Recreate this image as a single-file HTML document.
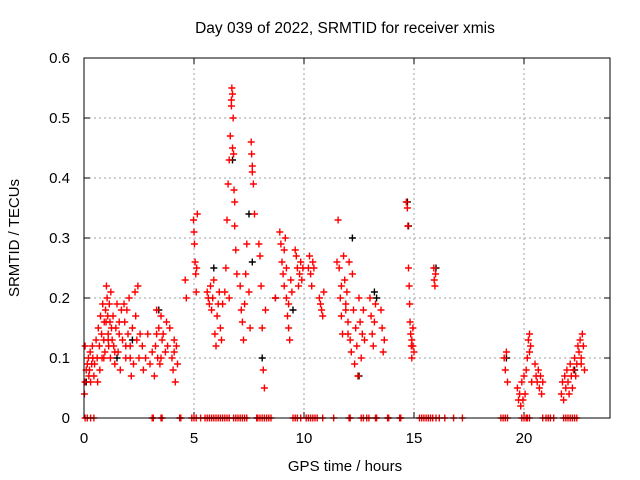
<!DOCTYPE html>
<html><head><meta charset="utf-8"><style>
body{margin:0;background:#fff;}
svg{display:block;font-family:"Liberation Sans",sans-serif;}
</style></head><body>
<svg id="chart" width="640" height="480" viewBox="0 0 640 480">
<rect width="640" height="480" fill="#fff"/>
<text x="345" y="33" font-size="15.5" text-anchor="middle">Day 039 of 2022, SRMTID for receiver xmis</text>
<text x="345" y="471" font-size="15" text-anchor="middle">GPS time / hours</text>
<text x="0" y="0" font-size="15" text-anchor="middle" transform="translate(19,238) rotate(-90)">SRMTID / TECUs</text>
<g id="grid"></g><g id="ticks"></g><g id="marks"></g>
<rect x="84" y="58" width="526" height="360" fill="none" stroke="#000" stroke-width="1"/>
</svg>
<script>
const xTicks=[0,5,10,15,20];
const yTicks=[0,0.1,0.2,0.3,0.4,0.5,0.6];
const yTickLabels=["0","0.1","0.2","0.3","0.4","0.5","0.6"];
const redT=[0.02,0.05,0.05,0.1,0.15,0.2,0.22,0.25,0.28,0.3,0.35,0.38,0.4,0.45,0.48,
0.55,0.6,0.62,0.65,0.7,0.72,0.75,0.8,0.82,0.85,0.9,0.92,0.95,0.98,
1.02,1.05,1.08,1.1,1.12,1.15,1.18,1.2,1.22,1.25,1.28,
1.32,1.35,1.4,1.45,1.5,1.55,1.6,1.65,1.7,1.75,
1.82,1.85,1.9,1.95,2.0,2.05,2.1,2.15,2.2,2.25,
2.32,2.35,2.4,2.45,2.5,2.55,2.65,2.7,2.8,2.9,3.0,3.1,
3.2,3.25,3.3,3.35,3.4,3.45,3.5,3.55,
3.6,3.7,3.75,3.8,3.9,4.0,4.05,4.1,4.15,4.2,4.25,4.6,4.65,
4.98,5.0,5.02,5.05,5.08,5.1,5.12,5.15,
5.6,5.65,5.7,5.75,5.8,5.85,5.9,5.95,6.0,6.05,6.1,6.15,6.2,6.25,
6.4,6.45,6.5,6.55,6.6,6.65,6.7,6.72,6.75,6.78,6.8,6.82,6.85,6.9,6.95,
7.1,7.15,7.2,7.25,7.3,7.35,7.4,7.5,7.55,7.6,7.62,7.65,7.7,7.75,
7.95,8.0,8.05,8.1,8.15,8.2,8.25,
8.7,8.9,8.95,9.0,9.05,9.1,9.15,9.2,9.25,9.3,9.35,9.4,9.45,
9.6,9.65,9.7,9.75,9.8,9.85,9.9,9.95,
10.2,10.25,10.3,10.35,10.4,10.45,10.7,10.75,10.8,10.85,10.9,
11.5,11.55,11.6,11.65,11.7,11.75,11.8,11.85,11.9,11.95,12.0,12.05,12.1,12.15,12.2,12.25,12.3,12.35,
12.4,12.45,12.5,12.55,12.6,12.65,12.7,12.75,
13.0,13.05,13.1,13.15,13.2,13.25,13.5,13.55,13.6,13.65,
14.65,14.7,14.72,14.75,14.78,14.8,14.82,14.85,14.88,14.9,14.95,15.0,
15.9,15.92,15.95,15.98,
19.1,19.15,19.2,19.25,19.7,19.75,19.8,19.85,19.9,19.95,20.0,20.05,
20.1,20.15,20.2,20.25,20.3,20.35,20.5,20.55,20.6,20.65,20.7,20.75,20.8,20.85,
21.7,21.75,21.8,21.85,21.9,21.95,22.0,22.05,22.1,22.15,22.2,22.25,22.3,22.35,22.4,22.45,
22.5,22.55,22.6,22.65,22.7,22.75,
0.9,1.0,1.1,1.4,1.6,1.9,2.1,3.3,3.5,4.1,6.3,6.6,6.7,6.75,6.85,7.65,9.1,9.2,9.3,11.7,11.9,12.0,14.9,14.95,20.25,22.6];
const redV=[0.04,0.06,0.12,0.08,0.09,0.1,0.07,0.08,0.11,0.06,0.09,0.12,0.1,0.07,0.09,
0.13,0.1,0.06,0.15,0.12,0.08,0.17,0.14,0.1,0.19,0.13,0.16,0.11,0.18,
0.22,0.2,0.17,0.14,0.12,0.19,0.16,0.1,0.21,0.15,0.13,
0.17,0.12,0.09,0.15,0.19,0.11,0.14,0.08,0.18,0.13,
0.19,0.16,0.12,0.18,0.14,0.2,0.1,0.07,0.15,0.09,
0.21,0.17,0.13,0.22,0.1,0.14,0.12,0.08,0.1,0.14,0.09,0.11,
0.07,0.12,0.18,0.1,0.15,0.09,0.17,0.13,
0.14,0.11,0.16,0.12,0.15,0.1,0.08,0.13,0.06,0.12,0.09,0.23,0.2,
0.33,0.31,0.29,0.26,0.24,0.21,0.25,0.34,
0.21,0.2,0.19,0.22,0.18,0.2,0.23,0.14,0.12,0.17,0.19,0.21,0.15,0.13,
0.21,0.25,0.33,0.39,0.43,0.47,0.52,0.55,0.54,0.5,0.44,0.38,0.32,0.28,0.24,
0.22,0.18,0.16,0.13,0.19,0.24,0.29,0.21,0.15,0.46,0.44,0.41,0.39,0.34,
0.29,0.27,0.22,0.15,0.08,0.05,0.18,
0.2,0.31,0.29,0.26,0.24,0.22,0.3,0.2,0.17,0.15,0.13,0.23,0.21,
0.28,0.27,0.25,0.22,0.24,0.26,0.23,0.25,
0.25,0.27,0.24,0.22,0.26,0.25,0.2,0.19,0.18,0.17,0.21,
0.26,0.33,0.25,0.2,0.17,0.14,0.27,0.23,0.19,0.21,0.16,0.26,0.13,0.11,0.24,0.18,0.09,0.15,
0.12,0.07,0.2,0.16,0.1,0.14,0.18,0.13,
0.2,0.17,0.14,0.12,0.16,0.19,0.18,0.15,0.11,0.13,
0.36,0.35,0.32,0.25,0.22,0.19,0.16,0.14,0.12,0.1,0.15,0.11,
0.25,0.23,0.22,0.24,
0.1,0.08,0.11,0.06,0.05,0.03,0.04,0.02,0.06,0.03,0.07,0.04,
0.08,0.1,0.13,0.14,0.12,0.06,0.09,0.07,0.06,0.08,0.05,0.07,0.04,0.06,
0.04,0.06,0.03,0.07,0.05,0.08,0.06,0.04,0.09,0.07,0.05,0.08,0.1,0.07,0.09,0.12,
0.11,0.13,0.09,0.14,0.12,0.08,
0.1,0.16,0.13,0.11,0.16,0.1,0.12,0.14,0.1,0.11,0.19,0.2,0.53,0.45,0.36,0.42,0.28,0.25,0.19,0.22,0.18,0.14,0.13,0.12,0.11,0.1];
const blackT=[0.1,1.5,2.2,3.4,5.9,6.75,7.5,7.65,8.1,8.7,9.5,12.2,12.5,13.2,13.3,14.7,14.75,16.0,19.2,22.3];
const blackV=[0.06,0.1,0.13,0.18,0.25,0.43,0.34,0.26,0.1,0.2,0.18,0.3,0.07,0.21,0.2,0.36,0.32,0.25,0.1,0.08];
const zeroT=[0.05,0.15,0.3,0.45,3.1,3.15,3.5,3.55,4.35,4.4,4.9,5.0,5.1,5.3,5.5,5.6,5.7,5.8,5.9,6.0,6.1,6.2,6.3,6.4,6.5,6.6,6.8,6.9,7.0,7.1,7.2,7.3,7.4,7.85,7.9,8.0,8.1,8.2,8.3,8.4,8.5,9.5,9.6,9.7,9.85,10.1,10.2,10.3,10.4,10.5,10.6,10.85,11.35,12.05,12.1,12.6,12.7,12.85,12.95,13.25,13.3,13.8,13.85,14.35,14.4,15.25,15.35,15.45,15.55,15.65,15.75,15.85,16.0,16.15,16.4,16.8,17.2,18.95,19.05,19.15,19.25,19.9,20.0,20.1,20.15,20.25,20.85,21.0,21.1,21.2,21.35,21.8,21.9,22.0,22.1,22.2,22.3,22.4];

const NS="http://www.w3.org/2000/svg";
function xs(t){return 84+t*22;}
function ys(v){return 418-v*600;}
const grid=document.getElementById('grid'),ticks=document.getElementById('ticks'),marks=document.getElementById('marks');
function mk(tag,attrs,parent){const e=document.createElementNS(NS,tag);for(const k in attrs)e.setAttribute(k,attrs[k]);parent.appendChild(e);return e;}
yTicks.forEach((v,i)=>{
  const y=ys(v);
  if(i>0&&i<yTicks.length-1){const g=mk('line',{x1:84,x2:610,y1:y,y2:y,stroke:'#a0a0a0','stroke-dasharray':'2,3'},grid);
  
  }
  const tk=mk('path',{d:`M84 ${y}h6M610 ${y}h-6`,stroke:'#000'},ticks);
  
  
  const t=mk('text',{x:70,y:y+5,'font-size':15,'text-anchor':'end'},ticks);t.textContent=yTickLabels[i];
  
  
});
xTicks.forEach(v=>{
  const x=xs(v);
  if(v>0){const g=mk('line',{x1:x,x2:x,y1:58,y2:418,stroke:'#a0a0a0','stroke-dasharray':'2,3'},grid);
  
  }
  const tk=mk('path',{d:`M${x} 418v-6M${x} 58v6`,stroke:'#000'},ticks);
  
  
  const t=mk('text',{x:x,y:443,'font-size':15,'text-anchor':'middle'},ticks);t.textContent=String(v);
  
  
});
function plus(x,y,c,name){
  const p=mk('path',{d:`M${x-3.5} ${y}h7M${x} ${y-3.5}v7`,stroke:c,'stroke-width':1.4},marks);
  
  
}
blackT.forEach((t,i)=>plus(xs(t),ys(blackV[i]),'#000','black-point'));
redT.forEach((t,i)=>plus(xs(t),ys(redV[i]),'#f00','red-point'));
zeroT.forEach(t=>plus(xs(t),ys(0),'#f00','zero-point'));
</script>
</body></html>
